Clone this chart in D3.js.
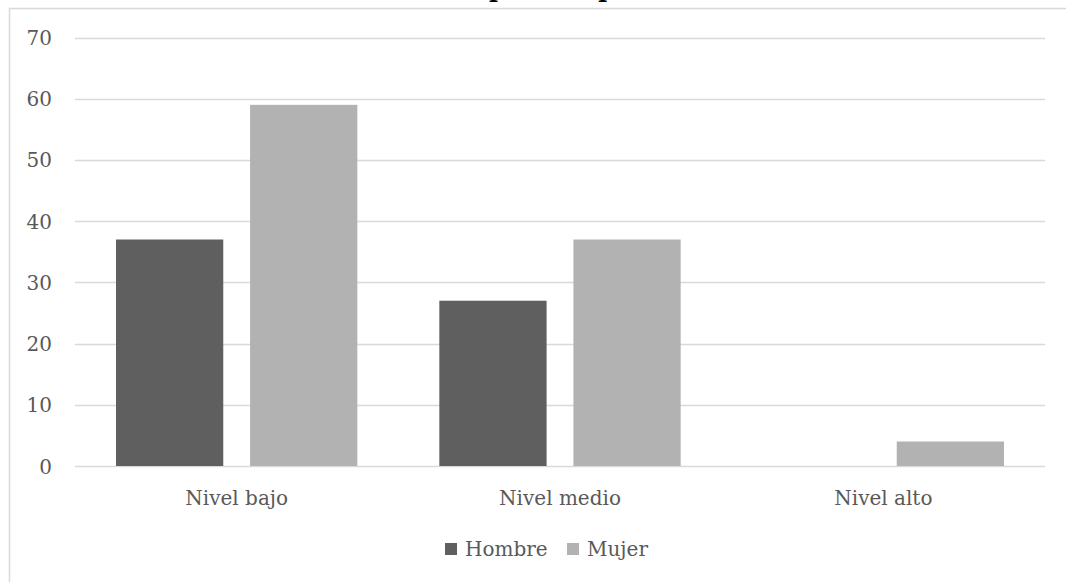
<!DOCTYPE html>
<html>
<head>
<meta charset="utf-8">
<script src="https://cdn.jsdelivr.net/npm/d3@7"></script>
<style>
  html, body { margin: 0; padding: 0; background: #fff; }
  svg { display: block; }
</style>
</head>
<body>
<svg id="chart" width="1066" height="582"></svg>
<script>
const titleText = "Nivel de depresión por sexo";
const categories = ["Nivel bajo", "Nivel medio", "Nivel alto"];
const seriesNames = ["Hombre", "Mujer"];
const hombre = [37, 27, 0];
const mujer = [59, 37, 4];
const yTicks = [0, 10, 20, 30, 40, 50, 60, 70];
const colors = ["#5f5f5f", "#b2b2b2"];

const svg = d3.select("#chart");
const font = "'DejaVu Serif', 'Liberation Serif', serif";
const textColor = "#595959";

// frame
svg.append("rect")
  .attr("x", 9.5).attr("y", 8.5)
  .attr("width", 1080).attr("height", 590)
  .attr("fill", "none").attr("stroke", "#d9d9d9").attr("stroke-width", 1.5);

// title (cropped at the top)
svg.append("text")
  .attr("x", 525).attr("y", -3)
  .attr("text-anchor", "middle")
  .attr("font-family", font).attr("font-weight", "bold")
  .attr("font-size", 24).attr("fill", "#000")
  .text(titleText);

const plotLeft = 75, plotRight = 1045, plotTop = 37.5, plotBottom = 466;

const x0 = d3.scaleBand().domain(categories).range([plotLeft, plotRight]).paddingInner(0).paddingOuter(0);
const x1 = d3.scaleBand().domain(seriesNames).range([41, x0.bandwidth() - 41]).paddingInner(0.2);
const y = d3.scaleLinear().domain([0, 70]).range([plotBottom, plotTop]);

// gridlines
svg.append("g").selectAll("line").data(yTicks).join("line")
  .attr("x1", plotLeft).attr("x2", plotRight)
  .attr("y1", d => Math.round(y(d)) + 0.5).attr("y2", d => Math.round(y(d)) + 0.5)
  .attr("stroke", "#d9d9d9").attr("stroke-width", 1.5);

// y axis labels
const yAxis = d3.axisLeft(y).tickValues(yTicks).tickSize(0).tickPadding(0);
const yg = svg.append("g").attr("transform", `translate(52,0)`).call(yAxis);
yg.select(".domain").remove();
yg.selectAll("text").attr("font-family", font).attr("font-size", 20).attr("fill", textColor).attr("dy", "0.35em");

// bars
const data = categories.map((c, i) => ({ cat: c, vals: [hombre[i], mujer[i]] }));
const groups = svg.append("g").selectAll("g").data(data).join("g")
  .attr("transform", d => `translate(${x0(d.cat)},0)`);
groups.selectAll("rect").data(d => d.vals.map((v, j) => ({ s: seriesNames[j], v, j })))
  .join("rect")
  .attr("x", d => x1(d.s))
  .attr("width", x1.bandwidth())
  .attr("y", d => y(d.v))
  .attr("height", d => plotBottom - y(d.v))
  .attr("fill", d => colors[d.j]);

// x axis labels
const xAxis = d3.axisBottom(x0).tickSize(0).tickPadding(0);
const xg = svg.append("g").attr("transform", `translate(0,${plotBottom})`).call(xAxis);
xg.select(".domain").remove();
xg.selectAll("text").attr("font-family", font).attr("font-size", 20).attr("fill", textColor)
  .attr("dy", null).attr("y", 39);

// legend
const legendItems = [
  { name: seriesNames[0], color: colors[0], x: 445 },
  { name: seriesNames[1], color: colors[1], x: 567 }
];
const lg = svg.append("g");
legendItems.forEach(it => {
  lg.append("rect").attr("x", it.x).attr("y", 543).attr("width", 12).attr("height", 12).attr("fill", it.color);
  lg.append("text").attr("x", it.x + 20).attr("y", 556)
    .attr("font-family", font).attr("font-size", 20).attr("fill", textColor).text(it.name);
});
</script>
</body>
</html>
